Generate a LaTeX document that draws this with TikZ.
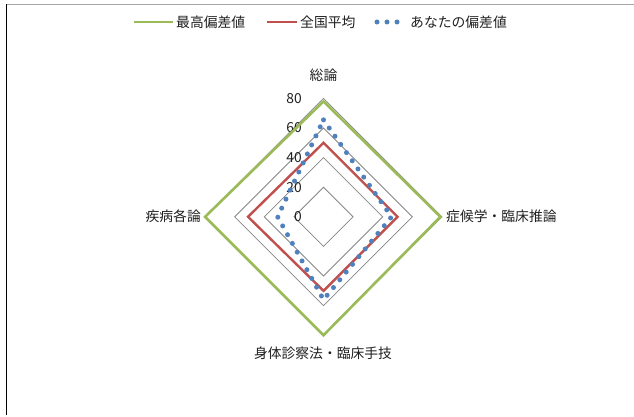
\documentclass[tikz,border=0pt]{standalone}
\usepackage{fontspec}
\usetikzlibrary{calc}
\setmainfont{Noto Sans CJK JP}
\definecolor{maxgreen}{HTML}{9BBB59}
\definecolor{avgred}{HTML}{C0504D}
\definecolor{youblue}{HTML}{4F81BD}
\definecolor{ringgray}{HTML}{868686}
\definecolor{txt}{HTML}{202020}
\begin{document}
\begin{tikzpicture}[x=1pt,y=-1pt,
  lbl/.style={inner sep=0pt,text=txt,font=\fontsize{13.8}{16}\selectfont},
  ring/.style={draw=ringgray,line width=0.8pt},
  maxline/.style={draw=maxgreen,line width=2.6pt,line join=miter},
  avgline/.style={draw=avgred,line width=2.4pt,line join=miter},
  youline/.style={draw=youblue,line width=5pt,line cap=round,dash pattern=on 0pt off 10pt}]
\useasboundingbox (0,0) rectangle (634,417);
\fill[white] (0,0) rectangle (634,417);
% frame fragments
\draw[gray!70,line width=1.6pt] (6,4.5) -- (634,4.5);
\draw[black,line width=1.6pt] (6.5,4) -- (6.5,415);
\def\cx{323.5}
\def\cy{216.8}
\def\s{1.48}
\coordinate (C) at (\cx,\cy);
% rings
\foreach \v in {20,40,60,80}{
  \draw[ring] ($(C)+(0,-\v*\s)$) -- ($(C)+(\v*\s,0)$) -- ($(C)+(0,\v*\s)$) -- ($(C)+(-\v*\s,0)$) -- cycle;
}
% scale labels
\foreach \v in {0,20,40,60,80}{
  \node[lbl,anchor=east] (n\v) at ($(C)+(-21.5,-\v*\s)$) {\v};
}
% series
\draw[maxline] ($(C)+(0,-78*\s)$) -- ($(C)+(79*\s,0)$) -- ($(C)+(0,80*\s)$) -- ($(C)+(-80*\s,0)$) -- cycle;
\draw[avgline] ($(C)+(0,-50*\s)$) -- ($(C)+(50*\s,0)$) -- ($(C)+(0,50*\s)$) -- ($(C)+(-51*\s,0)$) -- cycle;
\draw[youline] ($(C)+(0,-65.5*\s)$) -- ($(C)+(46*\s,0)$) -- ($(C)+(0,56*\s)$) -- ($(C)+(-31*\s,0)$) -- cycle;
% axis labels
\node[lbl] (a1) at (323.5,75) {総論};
\node[lbl,anchor=west] (a2) at (446,216) {症候学・臨床推論};
\node[lbl] (a3) at (323,353) {身体診察法・臨床手技};
\node[lbl,anchor=east] (a4) at (201,216) {疾病各論};
% legend
\coordinate (g1) at (134,22); \coordinate (g2) at (173,22);
\draw[draw=maxgreen,line width=2.4pt] (g1) -- (g2);
\node[lbl,anchor=west] (lg) at (176,22) {最高偏差値};
\coordinate (r1) at (267,22); \coordinate (r2) at (297,22);
\draw[draw=avgred,line width=2.4pt] (r1) -- (r2);
\node[lbl,anchor=west] (lr) at (300,22) {全国平均};
\coordinate (b1) at (377,22); \coordinate (b2) at (398,22);
\draw[youline] (b1) -- (b2);
\node[lbl,anchor=west] (lb) at (410,22) {あなたの偏差値};
\end{tikzpicture}
\end{document}
